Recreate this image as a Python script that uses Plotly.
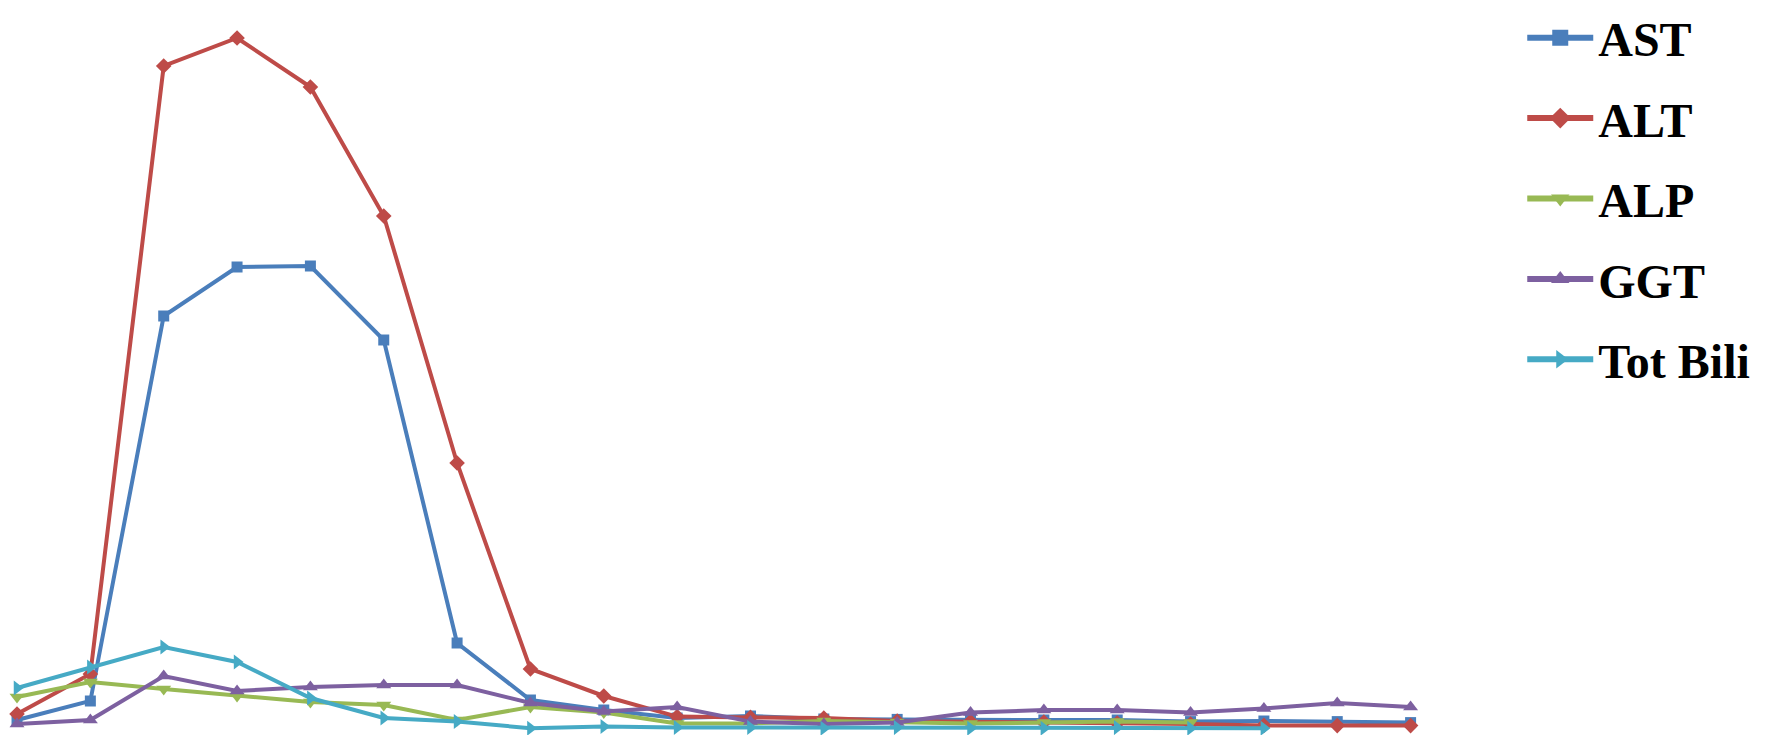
import plotly.graph_objects as go

# Sample index (1..20) along the horizontal axis
days = list(range(1, 21))

ast = [55, 150, 2075, 2320, 2325, 1955, 440, 155, 105, 65, 75, 60, 58, 55, 55, 55, 47, 50, 47, 42]
alt = [85, 285, 3325, 3465, 3220, 2575, 1340, 310, 175, 72, 68, 65, 50, 47, 45, 40, 35, 28, 27, 27]
alp = [170, 245, 210, 175, 145, 130, 55, 120, 92, 38, 38, 50, 45, 38, 42, 47, 42]
ggt = [35, 55, 275, 200, 220, 230, 230, 140, 97, 120, 47, 35, 42, 92, 105, 105, 92, 113, 140, 120]
tot_bili = [215, 320, 420, 345, 165, 65, 47, 14, 22, 18, 18, 14, 17, 14, 14, 17, 14, 14]

series = [
    ("AST", ast, "#4A7EBB", "square", 11),
    ("ALT", alt, "#BE4B48", "diamond", 12),
    ("ALP", alp, "#98B954", "triangle-down", 13),
    ("GGT", ggt, "#7D60A0", "triangle-up", 13),
    ("Tot Bili", tot_bili, "#46AAC5", "triangle-right", 13),
]

fig = go.Figure()
for name, values, color, symbol, size in series:
    fig.add_trace(go.Scatter(
        x=days[:len(values)],
        y=values,
        name=name,
        legendgroup=name,
        showlegend=False,
        mode="lines+markers",
        line=dict(color=color, width=4),
        marker=dict(symbol=symbol, size=size, color=color),
        cliponaxis=False,
    ))
    # legend key with a larger symbol than the plotted markers
    fig.add_trace(go.Scatter(
        x=[None],
        y=[None],
        name=name,
        legendgroup=name,
        showlegend=True,
        mode="lines+markers",
        line=dict(color=color, width=6),
        marker=dict(symbol=symbol, size=30, color=color),
        hoverinfo="skip",
    ))

fig.update_layout(
    width=1768,
    height=735,
    margin=dict(l=0, r=0, t=0, b=0),
    paper_bgcolor="white",
    plot_bgcolor="white",
    showlegend=True,
    legend=dict(
        x=0.861,
        y=1.0,
        xanchor="left",
        yanchor="top",
        font=dict(family="Liberation Serif", size=48, color="black", weight="bold"),
        itemwidth=66,
        itemsizing="trace",
        valign="bottom",
        tracegroupgap=15,
        bgcolor="rgba(0,0,0,0)",
    ),
    xaxis=dict(
        domain=[0, 0.82],
        range=[0.768, 20.534],
        visible=False,
    ),
    yaxis=dict(
        range=[-20, 3655],
        visible=False,
    ),
)

fig.write_html("out.html")
